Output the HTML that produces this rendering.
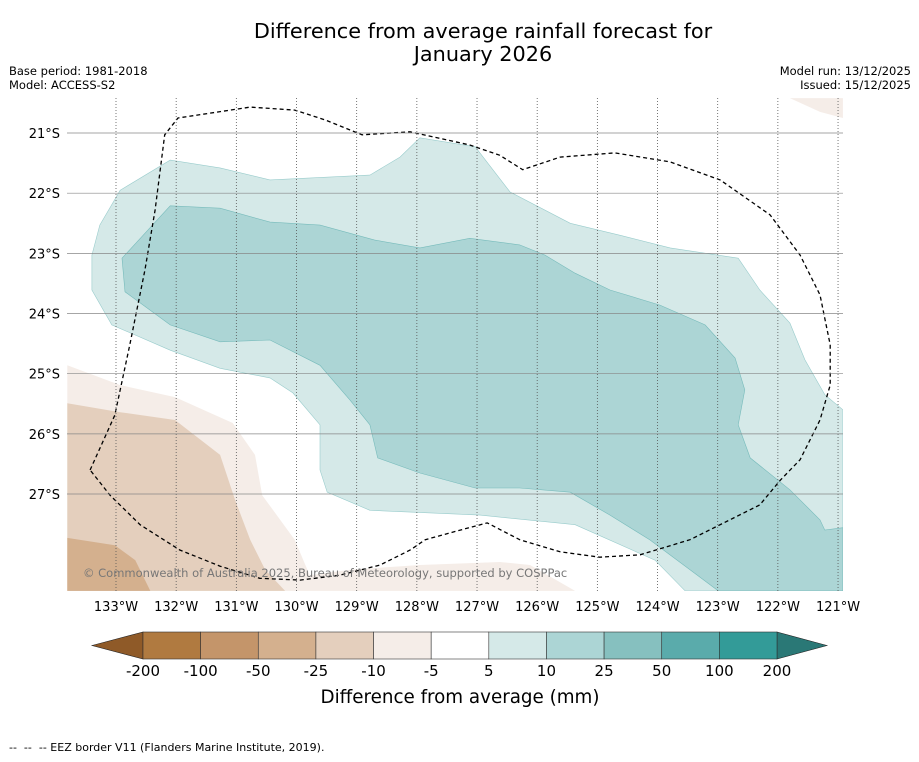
<!DOCTYPE html>
<html><head><meta charset="utf-8">
<style>
body{margin:0;background:#fff;width:919px;height:758px;overflow:hidden;font-family:"DejaVu Sans","Liberation Sans",sans-serif;}
svg text{font-family:"DejaVu Sans","Liberation Sans",sans-serif;}
</style></head>
<body>
<svg id="chart" width="919" height="758" xmlns="http://www.w3.org/2000/svg">
<text x="483" y="38" font-size="20.8" text-anchor="middle">Difference from average rainfall forecast for</text>
<text x="483" y="61" font-size="20.8" text-anchor="middle">January 2026</text>
<text x="9" y="75" font-size="11.5">Base period: 1981-2018</text>
<text x="9" y="89" font-size="11.5">Model: ACCESS-S2</text>
<text x="911" y="75" font-size="11.5" text-anchor="end">Model run: 13/12/2025</text>
<text x="911" y="89" font-size="11.5" text-anchor="end">Issued: 15/12/2025</text>
<defs><clipPath id="mapclip"><rect x="67" y="98" width="776" height="493"/></clipPath></defs>
<g id="map" clip-path="url(#mapclip)"></g>
<g id="grid"></g>
<g id="axes"></g>
<text x="83" y="577" font-size="11.5" fill="#777">© Commonwealth of Australia 2025, Bureau of Meteorology, supported by COSPPac</text>
<g id="cbar"></g>
<text x="460" y="703" font-size="18.3" text-anchor="middle">Difference from average (mm)</text>
<text x="9" y="751" font-size="11" style="white-space:pre" xml:space="preserve">--  --  -- EEZ border V11 (Flanders Marine Institute, 2019).</text>
</svg>
<script>
const lonTicks=[-133,-132,-131,-130,-129,-128,-127,-126,-125,-124,-123,-122,-121];
const latTicks=[-21,-22,-23,-24,-25,-26,-27];
const cbLabels=["-200","-100","-50","-25","-10","-5","5","10","25","50","100","200"];
const cbColors=["#b07a40","#c4956a","#d4b08e","#e4cfbd","#f5ede8","#ffffff","#d5e9e8","#acd5d5","#86c0bf","#5aabab","#339b98"];
const lightTeal=[[-132.93,-21.95],[-132.10,-21.45],[-131.27,-21.58],[-130.44,-21.78],[-128.78,-21.70],[-128.28,-21.40],[-127.95,-21.08],[-127.03,-21.23],[-126.45,-21.98],[-125.45,-22.50],[-124.62,-22.70],[-123.79,-22.91],[-122.66,-23.08],[-122.30,-23.61],[-121.80,-24.16],[-121.55,-24.77],[-121.22,-25.35],[-120.92,-25.60],[-120.92,-28.61],[-123.54,-28.61],[-124.04,-28.10],[-125.37,-27.51],[-126.95,-27.35],[-128.78,-27.27],[-129.49,-26.97],[-129.61,-26.60],[-129.61,-25.85],[-130.06,-25.32],[-130.44,-25.07],[-131.27,-24.91],[-132.10,-24.61],[-133.07,-24.19],[-133.40,-23.61],[-133.40,-23.03],[-133.27,-22.53]];
const midTeal=[[-132.90,-23.08],[-132.10,-22.21],[-131.27,-22.25],[-130.44,-22.48],[-129.61,-22.53],[-128.70,-22.78],[-127.95,-22.91],[-127.12,-22.75],[-126.29,-22.86],[-125.87,-23.03],[-125.37,-23.33],[-124.79,-23.61],[-123.96,-23.86],[-123.21,-24.19],[-122.71,-24.74],[-122.55,-25.27],[-122.66,-25.85],[-122.46,-26.40],[-121.80,-26.93],[-121.30,-27.43],[-121.22,-27.60],[-120.92,-27.56],[-120.92,-28.61],[-122.99,-28.61],[-123.46,-28.26],[-124.13,-27.76],[-124.79,-27.35],[-125.45,-26.97],[-126.29,-26.90],[-127.03,-26.90],[-127.95,-26.65],[-128.65,-26.40],[-128.78,-25.85],[-129.11,-25.44],[-129.61,-24.86],[-130.44,-24.44],[-131.27,-24.47],[-132.10,-24.19],[-132.85,-23.64]];
const lightBrown=[[-133.81,-24.86],[-132.93,-25.19],[-132.02,-25.39],[-131.06,-25.82],[-130.69,-26.35],[-130.57,-27.02],[-130.03,-27.76],[-129.78,-28.35],[-129.11,-28.26],[-127.95,-28.18],[-126.62,-28.13],[-126.12,-28.18],[-125.37,-28.61],[-133.81,-28.61]];
const midBrown=[[-133.81,-25.49],[-132.93,-25.64],[-132.02,-25.77],[-131.27,-26.35],[-131.02,-27.10],[-130.77,-27.76],[-130.52,-28.26],[-130.19,-28.61],[-133.81,-28.61]];
const darkBrown=[[-133.81,-27.73],[-133.02,-27.85],[-132.68,-28.10],[-132.43,-28.61],[-133.81,-28.61]];
const topRightBrown=[[-121.80,-20.42],[-120.92,-20.42],[-120.92,-20.75],[-121.30,-20.65]];
const eez=[[-133.43,-26.60],[-133.02,-25.69],[-132.77,-24.52],[-132.52,-23.28],[-132.35,-22.28],[-132.19,-21.03],[-131.97,-20.75],[-130.77,-20.57],[-130.03,-20.62],[-129.53,-20.78],[-128.91,-21.03],[-128.11,-20.98],[-127.12,-21.20],[-126.62,-21.37],[-126.24,-21.61],[-125.62,-21.40],[-124.71,-21.33],[-123.79,-21.48],[-122.96,-21.78],[-122.13,-22.36],[-121.63,-23.03],[-121.30,-23.69],[-121.13,-24.52],[-121.13,-25.19],[-121.30,-25.77],[-121.63,-26.43],[-121.96,-26.77],[-122.30,-27.18],[-122.80,-27.43],[-123.46,-27.76],[-124.29,-28.01],[-124.96,-28.05],[-125.62,-27.96],[-126.29,-27.76],[-126.83,-27.48],[-127.28,-27.60],[-127.86,-27.76],[-128.11,-27.93],[-128.61,-28.18],[-129.28,-28.35],[-129.94,-28.43],[-130.61,-28.40],[-131.27,-28.20],[-131.94,-27.93],[-132.60,-27.51],[-133.10,-27.02],[-133.43,-26.60]];

const NS="http://www.w3.org/2000/svg";
const SC=60.17;
function xS(lon){return 116+(lon+133)*SC;}
function yS(lat){return 133+(-21-lat)*SC;}
function mk(tag,attrs,parent){const e=document.createElementNS(NS,tag);for(const k in attrs)e.setAttribute(k,attrs[k]);parent.appendChild(e);return e;}
function pts(arr){return arr.map(p=>xS(p[0]).toFixed(1)+","+yS(p[1]).toFixed(1)).join(" ");}
const map=document.getElementById('map');
const layers=[[lightBrown,"#f5ede8","none","light-brown-region"],[midBrown,"#e4cfbd","none","mid-brown-region"],[darkBrown,"#d4b08e","none","dark-brown-region"],[topRightBrown,"#f5ede8","none","top-right-brown-region"],[lightTeal,"#d5e9e8","#9cc","light-teal-region"],[midTeal,"#acd5d5","#7bb","mid-teal-region"]];
layers.forEach(l=>{
  const p=mk('polygon',{points:pts(l[0]),fill:l[1],stroke:l[2],'stroke-width':0.6},map);
  
  
});
const grid=document.getElementById('grid');
lonTicks.forEach(t=>{
  const ln=mk('line',{x1:xS(t),x2:xS(t),y1:98,y2:591,stroke:'#555','stroke-width':0.8,'stroke-dasharray':'1,2'},grid);
  
  
});
latTicks.forEach(t=>{
  const ln=mk('line',{x1:67,x2:843,y1:yS(t),y2:yS(t),stroke:'#888','stroke-width':0.7},grid);
  
  
});
const e=mk('polyline',{points:pts(eez),fill:'none',stroke:'#000','stroke-width':1.3,'stroke-dasharray':'4,3'},map);


const axes=document.getElementById('axes');
lonTicks.forEach(t=>{
  const tx=mk('text',{x:xS(t),y:611,'font-size':13,'text-anchor':'middle'},axes);
  tx.textContent=Math.abs(t)+"°W";
  
  
});
latTicks.forEach(t=>{
  const tx=mk('text',{x:60,y:yS(t)+5,'font-size':13,'text-anchor':'end'},axes);
  tx.textContent=Math.abs(t)+"°S";
  
  
});
const cb=document.getElementById('cbar');
const cx0=143,cx1=777,cy0=632,cy1=659,n=cbColors.length,w=(cx1-cx0)/n;
const lt=mk('polygon',{points:`92,${(cy0+cy1)/2} ${cx0},${cy0} ${cx0},${cy1}`,fill:'#8f5a28',stroke:'#222','stroke-width':0.6},cb);


const rt=mk('polygon',{points:`827,${(cy0+cy1)/2} ${cx1},${cy0} ${cx1},${cy1}`,fill:'#2a7876',stroke:'#222','stroke-width':0.6},cb);


cbColors.forEach((c,i)=>{
  const r=mk('rect',{x:cx0+i*w,y:cy0,width:w,height:cy1-cy0,fill:c,stroke:'#333','stroke-width':0.6},cb);
  
  
});
cbLabels.forEach((s,i)=>{
  const tx=mk('text',{x:cx0+i*w,y:676,'font-size':15,'text-anchor':'middle'},cb);
  tx.textContent=s;
  
  
});
</script>
</body></html>
